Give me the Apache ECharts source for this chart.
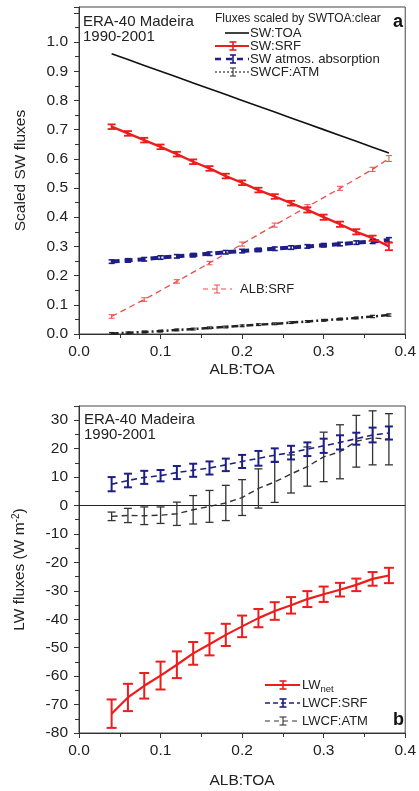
<!DOCTYPE html>
<html><head><meta charset="utf-8">
<script src="https://cdn.jsdelivr.net/npm/echarts@6/dist/echarts.min.js"></script>
<style>html,body{margin:0;padding:0;background:#fff}#c{width:419px;height:791px}</style>
</head><body><div id="c"></div>
<script>
// ---- shared x values (ALB:TOA) ----
const albToa = [0.04,0.06,0.08,0.10,0.12,0.14,0.16,0.18,0.20,0.22,0.24,0.26,0.28,0.30,0.32,0.34,0.36,0.38];
const xTicks = ['0.0','0.1','0.2','0.3','0.4'];

// ---- panel a ----
const swToa = [0.96,0.94,0.92,0.90,0.88,0.86,0.84,0.82,0.80,0.78,0.76,0.74,0.72,0.70,0.68,0.66,0.64,0.62];
const swSrf = [0.710,0.687,0.664,0.641,0.616,0.590,0.567,0.541,0.518,0.493,0.471,0.448,0.425,0.400,0.376,0.350,0.328,0.300];
const swSrfErr = [0.008,0.008,0.008,0.008,0.008,0.008,0.008,0.008,0.008,0.008,0.008,0.008,0.009,0.009,0.009,0.009,0.009,0.013];
const swAbs = [0.248,0.252,0.256,0.262,0.266,0.270,0.275,0.280,0.284,0.288,0.292,0.296,0.300,0.304,0.308,0.313,0.317,0.322];
const swAbsErr = [0.006,0.006,0.006,0.006,0.006,0.006,0.006,0.006,0.006,0.006,0.006,0.006,0.006,0.006,0.006,0.006,0.007,0.008];
const swcfAtm = [0.002,0.004,0.007,0.010,0.014,0.017,0.021,0.024,0.028,0.032,0.035,0.039,0.043,0.047,0.051,0.055,0.060,0.065];
const swcfAtmErr = [0.003,0.003,0.003,0.003,0.003,0.003,0.003,0.003,0.003,0.003,0.003,0.003,0.003,0.003,0.003,0.003,0.004,0.004];
const albSrfX = [0.04,0.08,0.12,0.16,0.20,0.24,0.28,0.32,0.36,0.38];
const albSrf = [0.060,0.118,0.180,0.243,0.308,0.373,0.436,0.499,0.564,0.601];
const albSrfErr = [0.006,0.006,0.006,0.006,0.007,0.007,0.007,0.007,0.007,0.010];
const yTicksA = ['0.0','0.1','0.2','0.3','0.4','0.5','0.6','0.7','0.8','0.9','1.0'];

// ---- panel b ----
const lwNet = [-73.2,-67.5,-63.4,-59.8,-56.0,-52.0,-48.8,-45.5,-42.5,-39.6,-37.1,-35.1,-32.9,-31.2,-29.6,-27.9,-25.8,-24.6];
const lwNetErr = [5.0,4.8,4.5,4.9,4.7,4.0,3.9,3.9,3.8,3.2,3.1,2.9,2.8,2.7,2.4,2.2,2.4,2.7];
const lwcfSrf = [7.5,8.8,9.9,10.5,11.6,12.4,13.2,14.3,15.5,16.6,17.7,18.6,19.8,21.0,22.2,23.5,24.8,25.5];
const lwcfSrfErr = [2.5,2.4,2.3,2.0,2.3,2.3,2.3,2.2,2.3,2.6,2.4,2.4,2.4,2.5,2.5,2.1,2.6,2.3];
const lwcfAtm = [-3.8,-3.5,-3.6,-3.4,-2.9,-1.5,-0.3,0.9,2.8,6.0,8.3,11.1,13.7,17.1,18.9,22.6,23.8,23.3];
const lwcfAtmErr = [1.5,2.5,3.1,2.9,4.1,5.0,5.6,6.2,6.3,6.9,7.2,6.7,6.9,8.7,9.5,9.1,9.5,9.0];
const yTicksB = ['-80','-70','-60','-50','-40','-30','-20','-10','0','10','20','30'];

const FONT = '"Liberation Sans", Arial, Helvetica, sans-serif';
const RED = '#ee1c1c', NAVY = '#1e1e86', BLK = '#111', GRAY = '#333', LRED = '#f04a4a';

function pairs(xs, ys){ return xs.map((x,i)=>[x, ys[i]]); }
function triples(xs, ys, es){ return xs.map((x,i)=>[x, ys[i], es[i]]); }

function errSeries(idx, xs, ys, es, color, lw, capW){
  return {
    type:'custom', xAxisIndex:idx, yAxisIndex:idx, z:5, silent:true, animation:false,
    data: triples(xs, ys, es), encode:{x:0, y:1}, clip:false,
    renderItem(params, api){
      const x = api.value(0), y = api.value(1), e = api.value(2);
      const t = api.coord([x, y + e]), b = api.coord([x, y - e]);
      const h = capW / 2, st = {stroke:color, lineWidth:lw, fill:null};
      return {type:'group', children:[
        {type:'line', shape:{x1:t[0], y1:t[1], x2:b[0], y2:b[1]}, style:st},
        {type:'line', shape:{x1:t[0]-h, y1:t[1], x2:t[0]+h, y2:t[1]}, style:st},
        {type:'line', shape:{x1:b[0]-h, y1:b[1], x2:b[0]+h, y2:b[1]}, style:st}
      ]};
    }
  };
}
function lineSeries(idx, xs, ys, color, width, dash){
  return {type:'line', xAxisIndex:idx, yAxisIndex:idx, data:pairs(xs, ys), symbol:'none', silent:true,
    animation:false, z:3, lineStyle:{color, width, type: dash || 'solid'}};
}

function xAxisCfg(idx, gap){
  return {type:'value', gridIndex:idx, min:0, max:0.4, interval:0.1,
    name:'ALB:TOA', nameLocation:'middle', nameGap:gap,
    nameTextStyle:{fontSize:15.5, color:'#222', fontFamily:FONT},
    axisLine:{show:true, onZero:false, lineStyle:{color:'#333', width:1}},
    axisTick:{show:true, length:5, lineStyle:{color:'#333'}},
    minorTick:{show:true, splitNumber:2, length:4, lineStyle:{color:'#333'}},
    splitLine:{show:false},
    axisLabel:{fontSize:15.5, color:'#222', fontFamily:FONT, margin:10,
      formatter:v=>xTicks[Math.round(v*10)] || ''}};
}

const option = {
  backgroundColor:'#fff',
  animation:false,
  grid:[
    {left:79, top:7, width:330, height:327, show:true, borderColor:'#444', borderWidth:1, containLabel:false},
    {left:79, top:406, width:330, height:327, show:true, borderColor:'#444', borderWidth:1, containLabel:false}
  ],
  xAxis:[xAxisCfg(0, 28), xAxisCfg(1, 40)],
  yAxis:[
    {type:'value', gridIndex:0, min:0, max:1.12, interval:0.1,
     name:'Scaled SW fluxes', nameLocation:'middle', nameGap:50, nameRotate:90,
     nameTextStyle:{fontSize:15.5, color:'#222', fontFamily:FONT},
     axisLine:{show:true, lineStyle:{color:'#333'}},
     axisTick:{show:true, length:5, lineStyle:{color:'#333'}},
     minorTick:{show:true, splitNumber:2, length:4, lineStyle:{color:'#333'}},
     splitLine:{show:false},
     axisLabel:{fontSize:15.5, color:'#222', fontFamily:FONT, margin:11, showMaxLabel:false,
       formatter:v=>yTicksA[Math.round(v*10)] || ''}},
    {type:'value', gridIndex:1, min:-80, max:35, interval:10,
     name:'LW fluxes (W m{sup|-2})', nameLocation:'middle', nameGap:50, nameRotate:90,
     nameTextStyle:{fontSize:15.5, color:'#222', fontFamily:FONT,
       rich:{sup:{fontSize:10, verticalAlign:'top', color:'#222', fontFamily:FONT, padding:[0,0,8,0]}}},
     axisLine:{show:true, lineStyle:{color:'#333'}},
     axisTick:{show:true, length:5, lineStyle:{color:'#333'}},
     minorTick:{show:true, splitNumber:2, length:4, lineStyle:{color:'#333'}},
     splitLine:{show:false},
     axisLabel:{fontSize:15.5, color:'#222', fontFamily:FONT, margin:11, showMaxLabel:false,
       formatter:v=>yTicksB[Math.round((v+80)/10)] || ''}}
  ],
  series:[
    lineSeries(0, albToa, swToa, BLK, 1.6),
    lineSeries(0, albSrfX, albSrf, LRED, 1.3, [6,4]),
    errSeries(0, albSrfX, albSrf, albSrfErr, LRED, 1, 6),
    lineSeries(0, albToa, swcfAtm, '#222', 2.5, [7,3,2,3]),
    errSeries(0, albToa, swcfAtm, swcfAtmErr, '#222', 1.2, 5),
    lineSeries(0, albToa, swAbs, NAVY, 4, [8,5]),
    errSeries(0, albToa, swAbs, swAbsErr, NAVY, 1.6, 6),
    lineSeries(0, albToa, swSrf, RED, 2.4),
    errSeries(0, albToa, swSrf, swSrfErr, RED, 1.8, 8),

    Object.assign(lineSeries(1, albToa, lwcfAtm, GRAY, 1.4, [6,4]), {
      markLine:{silent:true, symbol:'none', label:{show:false}, animation:false,
        lineStyle:{color:'#222', width:1, type:'solid'}, data:[{yAxis:0}]}}),
    errSeries(1, albToa, lwcfAtm, lwcfAtmErr, GRAY, 1.3, 8),
    lineSeries(1, albToa, lwcfSrf, NAVY, 1.6, [6,4]),
    errSeries(1, albToa, lwcfSrf, lwcfSrfErr, NAVY, 2, 8),
    lineSeries(1, albToa, lwNet, RED, 2.2),
    errSeries(1, albToa, lwNet, lwNetErr, RED, 2, 10)
  ],
  graphic:[]
};

// legend / annotation graphics (fixed page positions)
const G = option.graphic;
function txt(x, y, s, size, opts){
  G.push(Object.assign({type:'text', x, y, silent:true,
    style:Object.assign({text:s, fontSize:size, fontFamily:FONT, fill:'#222', textVerticalAlign:'middle'}, opts||{})}));
}
function seg(x1, x2, y, color, w, dash){
  G.push({type:'line', silent:true, shape:{x1, y1:y, x2, y2:y}, style:{stroke:color, lineWidth:w, lineDash:dash||null}});
}
function ebar(x, y, h, cap, color, w){
  const st = {stroke:color, lineWidth:w};
  G.push({type:'line', silent:true, shape:{x1:x, y1:y-h, x2:x, y2:y+h}, style:st});
  G.push({type:'line', silent:true, shape:{x1:x-cap/2, y1:y-h, x2:x+cap/2, y2:y-h}, style:st});
  G.push({type:'line', silent:true, shape:{x1:x-cap/2, y1:y+h, x2:x+cap/2, y2:y+h}, style:st});
}

// panel a
txt(83, 22, 'ERA-40 Madeira', 15);
txt(83, 37, '1990-2001', 15);
txt(393, 22, 'a', 18, {fontWeight:'bold', fill:'#111'});
txt(215, 19, 'Fluxes scaled by SWTOA:clear', 12);
seg(225, 249, 33, BLK, 1.6); txt(250, 33, 'SW:TOA', 13.2);
seg(215, 249, 46, RED, 2); ebar(233, 46, 4, 7, RED, 1.6); txt(250, 46, 'SW:SRF', 13.2);
seg(215, 249, 59, NAVY, 2.5, [6,5]); ebar(233, 59, 4, 6, NAVY, 1.6); txt(250, 59, 'SW atmos. absorption', 13.2);
seg(215, 249, 72, '#333', 1.2, [2,2]); ebar(233, 72, 4, 6, '#333', 1.1); txt(250, 72, 'SWCF:ATM', 13.2);
seg(203, 232, 289, LRED, 1.2, [5,4]); ebar(217, 289, 4, 6, LRED, 1); txt(240, 289, 'ALB:SRF', 13);

// panel b
txt(84, 420, 'ERA-40 Madeira', 15);
txt(84, 435, '1990-2001', 15);
txt(393, 720, 'b', 18, {fontWeight:'bold', fill:'#111'});
seg(265, 300, 685, RED, 2); ebar(283, 685, 4, 7, RED, 1.6);
txt(302, 685, 'LW{sub|net}', 13, {rich:{sub:{fontSize:9.5, fontFamily:FONT, fill:'#222', padding:[8,0,0,0]}}});
seg(265, 300, 703, NAVY, 1.6, [5,3]); ebar(283, 703, 4, 7, NAVY, 1.6); txt(302, 703, 'LWCF:SRF', 13);
seg(265, 300, 721, GRAY, 1.2, [5,4]); ebar(283, 721, 4, 7, GRAY, 1.1); txt(302, 721, 'LWCF:ATM', 13);

const chart = echarts.init(document.getElementById('c'));
chart.setOption(option);
</script>
</body></html>
